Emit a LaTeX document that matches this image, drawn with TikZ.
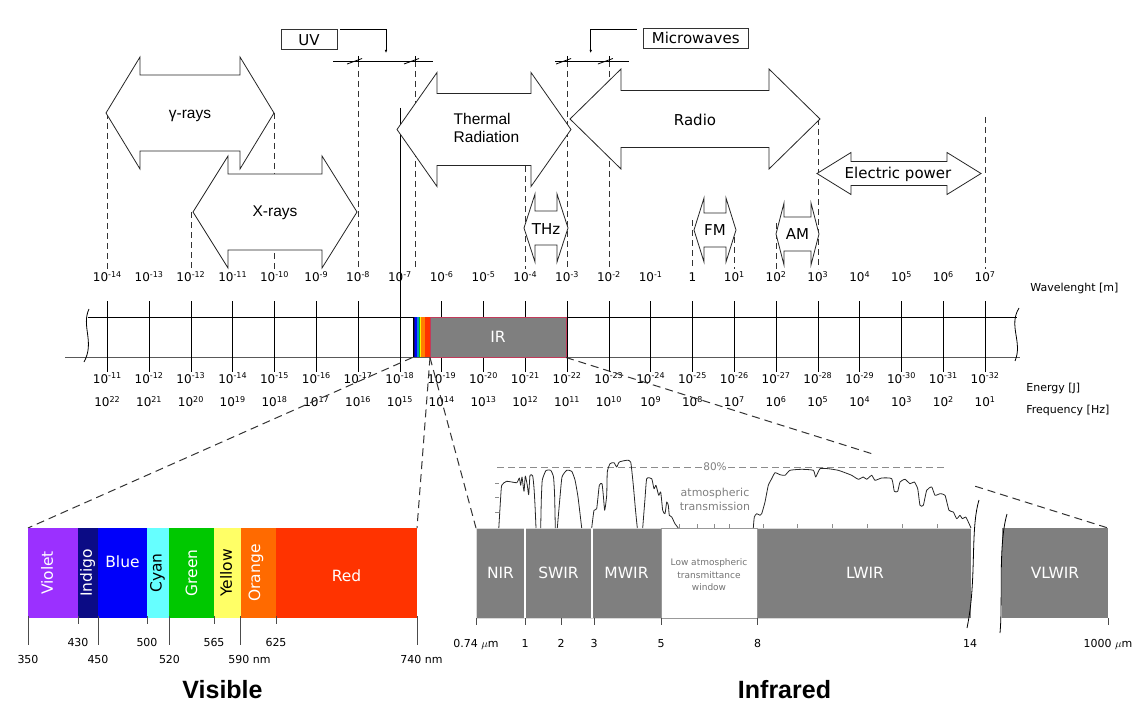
\documentclass[tikz,border=0pt]{standalone}
\usepackage{fontspec}
\setmainfont{DejaVu Sans}
\newfontfamily\arialfont{Liberation Sans}
\usetikzlibrary{arrows.meta,positioning,calc}

\definecolor{irgray}{HTML}{7F7F7F}
\definecolor{irframe}{HTML}{C23B5B}
\definecolor{cviolet}{HTML}{9B30FF}
\definecolor{cindigo}{HTML}{0B0B85}
\definecolor{cblue}{HTML}{0000FA}
\definecolor{ccyan}{HTML}{66FFFF}
\definecolor{cgreen}{HTML}{00C800}
\definecolor{cyellow}{HTML}{FFFF66}
\definecolor{corange}{HTML}{FF6A00}
\definecolor{cred}{HTML}{FF3300}

% double headed block arrow: left tip, right tip, mid y, head length, half height, half shaft
\newcommand{\dblarr}[6]{%
  \draw[arrbody] (#1,#3) -- ({#1+#4},{#3-#5}) -- ({#1+#4},{#3-#6}) -- ({#2-#4},{#3-#6})
    -- ({#2-#4},{#3-#5}) -- (#2,#3) -- ({#2-#4},{#3+#5}) -- ({#2-#4},{#3+#6})
    -- ({#1+#4},{#3+#6}) -- ({#1+#4},{#3+#5}) -- cycle;}
% tick of a dimension line
\newcommand{\dimtick}[2]{%
  \draw (#1,{#2-5}) -- (#1,#2);
  \draw ({#1-11},{#2+3}) -- ({#1+4},{#2-2.5});}

\begin{document}
\begin{tikzpicture}[x=1pt,y=-1pt,line width=0.8pt,
  guide/.style={black!80,dash pattern=on 6pt off 4pt},
  zoomline/.style={black!80,line width=1pt,dash pattern=on 8pt off 5pt},
  arrbody/.style={draw=black!85,fill=white},
  arrtxt/.style={font=\fontsize{15}{18}\selectfont},
  arialtxt/.style={font=\arialfont\fontsize{15.5}{18}\selectfont},
  numlab/.style={font=\fontsize{11}{13}\selectfont,anchor=base,inner sep=0pt},
  barnum/.style={font=\fontsize{12}{14}\selectfont,anchor=base,inner sep=0pt},
  axlab/.style={font=\fontsize{11}{13}\selectfont,anchor=base west,inner sep=0pt},
  boxlab/.style={draw=black!80,font=\fontsize{15}{18}\selectfont,minimum height=20pt,inner sep=0pt},
  bandlab/.style={font=\fontsize{15.5}{18}\selectfont,inner sep=0pt},
  ircell/.style={fill=irgray,draw=black!15},
  minortick/.style={black!45,line width=0.6pt},
  curve/.style={black!85,line width=0.8pt,line join=round},
  sectitle/.style={font=\arialfont\bfseries\fontsize{25}{30}\selectfont}]
\useasboundingbox (0,0) rectangle (1138,706);

% guide lines down to the wavelength scale
\foreach \xx/\ya in {107.3/113,274.5/113,190.9/212,358.1/61,415/61,525.3/166,567.1/61,608.9/61,692.5/220,734.3/227,776.1/223,817.9/119,985.1/117}
  \draw[guide] (\xx,\ya) -- (\xx,269);
\draw (399.9,108) -- (399.9,301);

% UV and microwave brackets
\draw (333,61) -- (433,61);
\dimtick{358.1}{61}
\dimtick{415}{61}
\draw (555,61) -- (629,61);
\dimtick{567.1}{61}
\dimtick{608.9}{61}
\node[boxlab,minimum width=56pt] (uv) at (309,39.7) {UV};
\node[boxlab,minimum width=105pt] (mw) at (695.7,38) {Microwaves};
\coordinate (uvtip) at (386,53);
\coordinate (mwtip) at (590.7,53);
\draw[-{Latex[length=3pt,width=2.5pt]}] ([xshift=2.5pt,yshift=-0.6pt]uv.north east) -| (uvtip);
\draw[-{Latex[length=3pt,width=2.5pt]}] ([xshift=-6pt,yshift=-2.3pt]mw.north west) -| (mwtip);

% band arrows
\dblarr{106}{274}{113}{34}{56}{38}
\dblarr{193}{357}{212}{35}{56}{38}
\dblarr{397}{571}{129.5}{40}{57}{36}
\dblarr{570}{820}{119}{51}{50}{28.5}
\dblarr{817}{981}{173.5}{34}{21}{12}
\dblarr{524}{568}{228}{11}{34}{17}
\dblarr{694}{736}{230}{10}{32}{17}
\dblarr{776}{819}{234}{8}{31}{17}
\node[arialtxt] (gamma) at (190,116) {γ-rays};
\node[arialtxt] (xray) at (275,213) {X-rays};
\node[arialtxt,align=left,anchor=west] (thermal) at (450,128) {Thermal\\Radiation};
\node[arrtxt] (radio) at (695,120) {Radio};
\node[arrtxt] (power) at (898,174) {Electric power};
\node[arrtxt] (thz) at (546,229) {THz};
\node[arrtxt] (fm) at (715,230) {FM};
\node[arrtxt] (am) at (797.5,234) {AM};

% scale bar
\draw (88,317) -- (1017,317);
\draw[black!65,line width=1.3pt] (65,357.5) -- (1020,357.5);
\draw (89,309) .. controls (81,326) and (95,342) .. (84,362);
\draw (1019,308) .. controls (1008,326) and (1023,342) .. (1015,361);
\foreach \i in {0,...,21}{
  \pgfmathsetmacro\xx{107.3+41.8*\i}
  \pgfmathtruncatemacro\wl{\i-14}
  \pgfmathtruncatemacro\en{-(\i+11)}
  \pgfmathtruncatemacro\fr{22-\i}
  \draw (\xx,301) -- (\xx,372);
  \ifnum\wl=0
    \node[barnum] (wl\i) at (\xx,281.5) {1};
  \else
    \node[barnum] (wl\i) at (\xx,281.5) {10\textsuperscript{\wl}};
  \fi
  \node[barnum] (en\i) at (\xx,383) {10\textsuperscript{\en}};
  \node[barnum] (fr\i) at (\xx,406.5) {10\textsuperscript{\fr}};
}
\node[axlab] (wllab) at (1030,291) {Wavelenght [m]};
\node[axlab] (enlab) at (1026,391) {Energy [J]};
\node[axlab] (frlab) at (1026,413) {Frequency [Hz]};

% visible strip and IR box in the bar
\foreach \xa/\xb/\col in {412.5/413.6/black,413.6/415/cindigo,415/416.7/cblue,416.7/418.7/cyan!70!blue,418.7/420/cgreen,420/421.3/yellow,421.3/425/orange,425/430/cred}
  \fill[\col] (\xa,317.4) rectangle (\xb,357);
\draw[fill=irgray,draw=irframe,line width=1pt] (430,317) rectangle (566,357.5);
\node[bandlab,white] (ir) at (498,337) {IR};

% zoom lines
\coordinate (visL) at (412.5,357.5);
\coordinate (visR) at (430,357.5);
\coordinate (irR) at (566,357.5);
\coordinate (vbL) at (28,528);
\coordinate (vbR) at (417,528);
\coordinate (ibL) at (476,528);
\coordinate (ibR) at (1108,528);
\draw[zoomline] (visL) -- (vbL);
\draw[zoomline] (visR) -- (vbR);
\draw[zoomline] (visR) -- (ibL);
\draw[zoomline] (irR) -- ($(irR)!0.57!(ibR)$);
\draw[zoomline] ($(irR)!0.755!(ibR)$) -- (ibR);

% visible band
\foreach \xa/\xb/\col in {28/78/cviolet,78/98/cindigo,98/147/cblue,147/169/ccyan,169/214/cgreen,214/240.5/cyellow,240.5/276/corange,276/417/cred}
  \fill[\col] (\xa,528) rectangle (\xb,618);
\node[bandlab,white,rotate=90] (violet) at (47,573) {Violet};
\node[bandlab,white,rotate=90] (indigo) at (87.5,573) {Indigo};
\node[bandlab,white] (blue) at (122.5,562) {Blue};
\node[bandlab,black,rotate=90] (cyan) at (157.5,573) {Cyan};
\node[bandlab,white,rotate=90] (green) at (191.5,573) {Green};
\node[bandlab,black,rotate=90] (yellow) at (226,573) {Yellow};
\node[bandlab,white,rotate=90] (orange) at (256,573) {Orange};
\node[bandlab,white] (red) at (346.5,576) {Red};
\foreach \xx in {28,98,169,240.5,417} \draw[black!70] (\xx,616) -- (\xx,645);
\foreach \xx in {78,147,214,276} \draw[black!70] (\xx,616) -- (\xx,624);
\foreach \xx/\t in {78/430,147/500,214/565,276/625}
  \node[numlab] at (\xx,646) {\t};
\foreach \xx/\t in {28/350,98/450,169.5/520}
  \node[numlab] at (\xx,663) {\t};
\node[axlab] (nm590) at (228,663) {590 nm};
\node[axlab] (nm740) at (400,663) {740 nm};
\node[sectitle] (visible) at (222.5,690) {Visible};

% infrared bands
\draw[ircell] (476,528) rectangle (525,618);
\draw[ircell] (525,528) rectangle (592,618);
\draw[ircell] (592,528) rectangle (661,618);
\draw[fill=white,draw=black!40] (661,528) rectangle (757.5,618);
\fill[irgray] (757.5,528) rectangle (971,618);
\draw[black!15] (757.5,528) -- (971,528) (757.5,618) -- (969,618);
\fill[irgray] (1002,528) rectangle (1108,618);
\draw[white,line width=1.2pt] (525,528) -- (525,618) (592,528) -- (592,618);
\draw (979,500) .. controls (970,530) and (977,580) .. (967,628);
\draw (1007,514) .. controls (998,545) and (1003,600) .. (1000,633);
\node[bandlab,white] (nir) at (500.5,573) {NIR};
\node[bandlab,white] (swir) at (558.5,573) {SWIR};
\node[bandlab,white] (mwir) at (626.5,573) {MWIR};
\node[align=center,text=black!55,font=\fontsize{9}{12.5}\selectfont] (window) at (709,575) {Low atmospheric\\transmittance\\window};
\node[bandlab,white] (lwir) at (865,573) {LWIR};
\node[bandlab,white] (vlwir) at (1055,573) {VLWIR};
\foreach \xx in {476,525,561,594,661,757.5,1108} \draw[black!70] (\xx,618) -- (\xx,625);
\foreach \xx/\t in {525/1,561/2,594/3,661/5,757.5/8,970/14}
  \node[numlab] at (\xx,647) {\t};
\node[numlab] (um074) at (476,647) {0.74 $\mu$m};
\node[numlab] (um1000) at (1108,647) {1000 $\mu$m};
\node[sectitle] (infrared) at (784.5,690) {Infrared};

% atmospheric transmission
\draw[black!45,dash pattern=on 7pt off 4pt] (497,467) -- (944,467);
\node[fill=white,text=black!50,inner sep=1pt,font=\fontsize{10.5}{12}\selectfont] (pct) at (715,467) {80\%};
\node[text=black!50,align=center,font=\fontsize{11}{14}\selectfont] (atm) at (715,499) {atmospheric\\transmission};
\foreach \yy in {483.7,497,512} \draw[minortick] (495,\yy) -- (499,\yy);
\foreach \xx in {679,697,714,729,763,797,832,867,902,937} \draw[minortick] (\xx,528) -- (\xx,524);
\draw[curve] plot[smooth,tension=0.3] coordinates {(498.8,528) (500.5,500) (501.7,485.3) (506.7,481.3) (516.7,482.7) (519.3,478) (520.7,485.3) (522,477) (524,491.3) (525.3,476) (527.3,485.3) (528.7,494.7) (530,475.3) (532.7,476) (534,488) (535,505) (536,528)};
\draw[curve] plot[smooth,tension=0.3] coordinates {(540.7,528) (541.3,500) (542.3,480) (546,470.5) (550.7,470.3) (553.5,477) (554.6,495) (555.3,528)};
\draw[curve] plot[smooth,tension=0.3] coordinates {(557.3,528) (560,497) (562,477) (566.7,470.3) (571.7,471.3) (575,480) (578,497) (581.7,528)};
\draw[curve] plot[smooth,tension=0.3] coordinates {(591.7,528) (594,510.3) (596.7,508.7) (599.3,485.3) (602,483.7) (603.3,495.3) (604.7,510.3) (606.7,495.3) (607.3,472) (610,463.7) (614,462.7) (616.7,467) (619.3,462) (626.7,460.3) (630.7,462) (633.3,485.3) (635.5,510) (637.3,528)};
\draw[curve] plot[smooth,tension=0.3] coordinates {(642.7,528) (645,498.7) (646.7,478.7) (651.7,478.7) (654,488.7) (656,485.3) (658.7,495.3) (660.7,492) (662.7,510.3) (665,513.7) (666.7,502) (668.3,505.3) (669.3,515.3) (671.7,517) (675,523.7) (678.3,528)};
\draw[curve] plot[smooth,tension=0.3] coordinates {(753.3,528) (754.3,517) (756.7,513.7) (760,515.3) (761.7,513.7) (765,502) (768.3,485.3) (771.7,478.7) (775,472.7) (780,474.7) (785,475.3) (790,470.3) (801.7,469.3) (813.3,470.3) (815.7,477) (820,468.7) (828.3,468.7) (838.3,470.3) (845,472.7) (851.7,475.3) (858.3,479.3) (863.3,477) (866.7,479.3) (871.7,475.3) (875,480.3) (881.7,478) (891.7,478.7) (894.3,491.3) (897.7,491.3) (900,482) (905,479.3) (910,483.7) (914.3,482) (917.7,488.7) (920,505.3) (923.3,505.3) (926.7,490.3) (931.7,487) (935,495.3) (940,493.7) (945,495.3) (949,510.3) (953.3,512) (956.7,518.7) (960,515.3) (962.3,518.7) (965.7,517) (968.3,522) (971,528)};
\end{tikzpicture}
\end{document}
